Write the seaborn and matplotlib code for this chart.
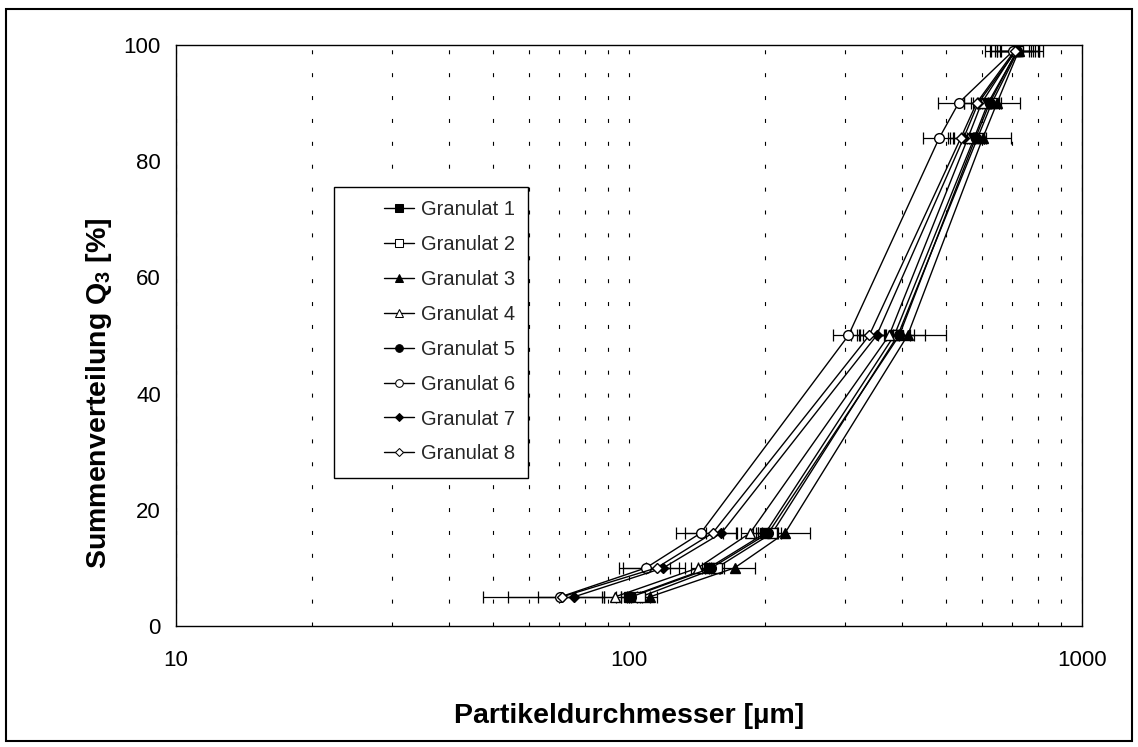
import numpy as np
import pandas as pd
import matplotlib
matplotlib.use("Agg")
import matplotlib.pyplot as plt
import matplotlib.patches as mpatches
from matplotlib.ticker import LogLocator, FixedLocator, NullFormatter, FixedFormatter
import seaborn as sns

# ---------------- data ----------------
levels = [5, 10, 16, 50, 84, 90, 99]
series_names = ["Granulat 1", "Granulat 2", "Granulat 3", "Granulat 4",
                "Granulat 5", "Granulat 6", "Granulat 7", "Granulat 8"]

g1 = [100, 150, 200, 385, 578, 620, 720]
g2 = [106, 156, 207, 392, 588, 632, 722]
g3 = [111, 171, 221, 412, 604, 649, 725]
g4 = [93, 142, 185, 375, 560, 600, 712]
g5 = [101, 152, 203, 395, 582, 625, 718]
g6 = [70.5, 109, 144, 305, 484, 534, 705]
g7 = [75.5, 119, 160, 352, 548, 590, 715]
g8 = [71, 115, 153, 339, 540, 585, 710]

e1 = [4, 8, 12, 66, 30, 35, 60]
e2 = [5, 6, 10, 25, 25, 30, 80]
e3 = [4, 19, 30, 88, 93, 79, 95]
e4 = [6, 5, 8, 20, 20, 25, 50]
e5 = [5, 7, 10, 30, 25, 30, 70]
e6 = [23, 14, 17, 23, 38, 54, 95]
e7 = [12.5, 10, 12, 30, 30, 40, 90]
e8 = [17, 18, 20, 30, 35, 35, 60]

values = [g1, g2, g3, g4, g5, g6, g7, g8]
errors = [e1, e2, e3, e4, e5, e6, e7, e8]

x_ticks = [10, 100, 1000]
x_tick_labels = ["10", "100", "1000"]
y_ticks = [0, 20, 40, 60, 80, 100]

# ---------------- style ----------------
sns.set_theme(style="white")
plt.rcParams["font.family"] = ["Liberation Sans", "DejaVu Sans"]
plt.rcParams["mathtext.fontset"] = "custom"
plt.rcParams["mathtext.rm"] = "Liberation Sans"
plt.rcParams["mathtext.bf"] = "Liberation Sans:bold"

rows = []
for name, vals in zip(series_names, values):
    for lv, v in zip(levels, vals):
        rows.append({"Granulat": name, "d": v, "Q3": lv})
df = pd.DataFrame(rows)

markers = {
    "Granulat 1": "s", "Granulat 2": "s", "Granulat 3": "^", "Granulat 4": "^",
    "Granulat 5": "o", "Granulat 6": "o", "Granulat 7": "D", "Granulat 8": "D",
}
filled = {"Granulat 1": True, "Granulat 2": False, "Granulat 3": True, "Granulat 4": False,
          "Granulat 5": True, "Granulat 6": False, "Granulat 7": True, "Granulat 8": False}

fig = plt.figure(figsize=(11.38, 7.47), dpi=100)
ax = fig.add_axes([0.1547, 0.162, 0.7961, 0.7778])

sns.lineplot(data=df, x="d", y="Q3", hue="Granulat", style="Granulat",
             palette=["black"] * 8, markers=markers, dashes=False,
             sort=False, estimator=None, linewidth=1.0, markersize=7,
             ax=ax, zorder=3, legend=True)

series_lines = list(ax.get_lines())[:8]
for line, name in zip(series_lines, series_names):
    line.set_color("black")
    line.set_markeredgecolor("black")
    line.set_markeredgewidth(1.0)
    line.set_markerfacecolor("black" if filled[name] else "white")
    if markers[name] == "D":
        line.set_markersize(5.5)

# error bars (drawn beneath markers)
for name, vals, errs in zip(series_names, values, errors):
    ax.errorbar(vals, levels, xerr=errs, fmt="none", ecolor="black",
                elinewidth=0.9, capsize=4, capthick=0.9, zorder=2)

ax.set_xscale("log")
ax.set_xlim(10, 1000)
ax.set_ylim(0, 100)

ax.xaxis.set_major_locator(FixedLocator(x_ticks))
ax.xaxis.set_major_formatter(FixedFormatter(x_tick_labels))
ax.xaxis.set_minor_locator(LogLocator(base=10, subs=np.arange(2, 10)))
ax.xaxis.set_minor_formatter(NullFormatter())
ax.set_yticks(y_ticks)

ax.grid(True, axis="x", which="both", color="black", linewidth=0.8,
        linestyle=(0, (3.6, 17)))
ax.grid(False, axis="y")
ax.set_axisbelow(True)

for sp in ax.spines.values():
    sp.set_visible(True)
    sp.set_color("black")
    sp.set_linewidth(1.0)

ax.tick_params(axis="both", which="major", direction="inout", length=10,
               width=1.0, color="black", labelsize=16, labelcolor="black", pad=6)
ax.tick_params(axis="x", which="minor", length=0)
ax.tick_params(axis="x", which="major", pad=12)

ax.set_xlabel("Partikeldurchmesser [µm]", fontsize=20.5, fontweight="bold",
              color="black", labelpad=23)
ax.set_ylabel(r"Summenverteilung $\mathbf{Q_3}$ [%]", fontsize=20.5,
              fontweight="bold", color="black")
ax.yaxis.set_label_coords(-0.069, 0.40)

# legend (frame drawn separately to get the wide left margin)
handles, labels = ax.get_legend_handles_labels()
for h, name in zip(handles, labels):
    h.set_color("black")
    h.set_markeredgecolor("black")
    h.set_markerfacecolor("black" if filled[name] else "white")
    h.set_markersize(5.5 if markers[name] != "D" else 4.5)
    h.set_linewidth(1.0)
leg = ax.legend(handles, labels, loc="upper left",
                bbox_to_anchor=(376 / 1138, 1 - 192 / 747), bbox_transform=fig.transFigure,
                frameon=False, fontsize=14.5, handlelength=1.5, handletextpad=0.35,
                labelspacing=0.79, borderpad=0.4, borderaxespad=0)
leg.set_zorder(6)

box_l, box_t, box_r, box_b = 334, 187, 528, 478
frame = mpatches.Rectangle((box_l / 1138, 1 - box_b / 747),
                           (box_r - box_l) / 1138, (box_b - box_t) / 747,
                           transform=fig.transFigure, fill=True,
                           facecolor="white", edgecolor="black",
                           linewidth=1.0, zorder=5, clip_on=False)
ax.add_patch(frame)

# outer figure border
fig.patches.append(mpatches.Rectangle((0.005, 0.008), 0.99, 0.98,
                                      transform=fig.transFigure, fill=False,
                                      edgecolor="black", linewidth=1.5))

fig.savefig("out.png", dpi=100)
